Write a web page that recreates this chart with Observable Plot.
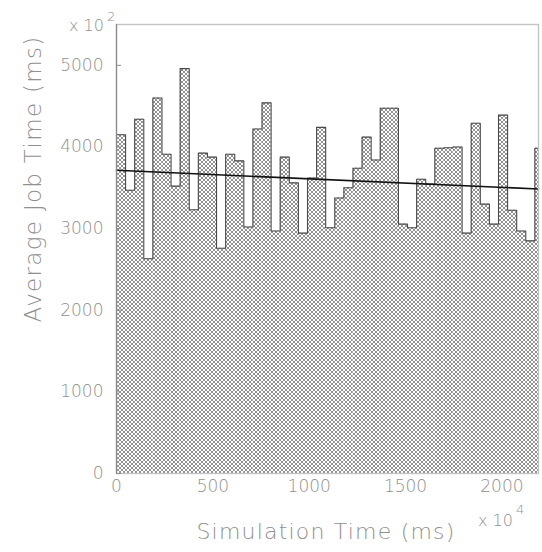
<!DOCTYPE html>
<html>
<head>
<meta charset="utf-8">
<script src="https://cdn.jsdelivr.net/npm/d3@7"></script>
<script src="https://cdn.jsdelivr.net/npm/@observablehq/plot@0.6"></script>
<style>
  html, body { margin: 0; padding: 0; background: #fff; }
  #chart { width: 542px; height: 552px; }
</style>
</head>
<body>
<div id="chart"></div>
<script>
// ---- data ----
const binWidth = 47.2;            // x units (×10^4 ms) per histogram bin
const avgJobTime = [
  4150, 3470, 4340, 2630, 4600, 3910, 3520, 4960, 3230, 3925,
  3875, 2760, 3910, 3830, 3020, 4220, 4540, 2970, 3875, 3560,
  2945, 3620, 4240, 3010, 3375, 3500, 3740, 4120, 3840, 4475,
  4475, 3055, 3010, 3605, 3545, 3985, 3990, 4000, 2945, 4290,
  3300, 3055, 4390, 3225, 2970, 2850, 3985
];
const fitX = [0, 2190];
const fitY = [3715, 3485];
const xTicks = [0, 500, 1000, 1500, 2000];
const yTicks = [0, 1000, 2000, 3000, 4000, 5000];
const xDomain = [0, 2190];
const yDomain = [0, 5500];
const xLabel = "Simulation Time (ms)";
const yLabel = "Average Job Time (ms)";
const yExponent = "2";
const xExponent = "4";

// ---- derived tables ----
const bins = avgJobTime.map((v, i) => ({x1: i * binWidth, x2: (i + 1) * binWidth, y: v}));
const outline = bins.map(b => ({x: b.x1, y: b.y}));
outline.push({x: bins[bins.length - 1].x2, y: bins[bins.length - 1].y});
const fit = fitX.map((x, i) => ({x, y: fitY[i]}));

const textColor = "#909090";
const font = "'DejaVu Sans', sans-serif";

const chart = Plot.plot({
  width: 542,
  height: 552,
  marginLeft: 116,
  marginRight: 4,
  marginTop: 24,
  marginBottom: 79,
  style: {fontFamily: font, background: "#fff"},
  x: {domain: xDomain},
  y: {domain: yDomain},
  marks: [
    Plot.rectY(bins, {x1: "x1", x2: "x2", y: "y", fill: "url(#xhatch)", clip: true}),
    Plot.line(outline, {x: "x", y: "y", curve: "step-after", stroke: "#4a4a4a", strokeWidth: 1.1, clip: true}),
    Plot.line(fit, {x: "x", y: "y", stroke: "#111", strokeWidth: 1.6}),
    Plot.frame({stroke: "#c4c4c4", strokeWidth: 1.4}),
    Plot.ruleX([xDomain[0]], {stroke: "#8a8a8a", strokeWidth: 1.2}),
    // inward tick marks
    Plot.axisY({ticks: yTicks, tickSize: 5, dx: 5, text: null, stroke: "#8a8a8a", label: null}),
    // tick labels
    Plot.axisY({ticks: yTicks, tickSize: 0, tickPadding: 13, tickFormat: d => String(d),
      fontSize: 17, fontWeight: 200, color: textColor, label: null}),
    Plot.axisX({ticks: xTicks, tickSize: 0, tickPadding: 6, tickFormat: d => String(d),
      fontSize: 17, fontWeight: 200, color: textColor, label: null})
  ]
});

// hatch pattern definition
const svg = d3.select(chart);
const defs = svg.insert("defs", ":first-child");
const pat = defs.append("pattern")
  .attr("id", "xhatch").attr("patternUnits", "userSpaceOnUse")
  .attr("width", 4).attr("height", 4);
pat.append("rect").attr("width", 4).attr("height", 4).attr("fill", "#ffffff");
pat.append("path").attr("d", "M0,0L4,4M4,0L0,4M-1,3L1,5M3,-1L5,1M3,5L5,3M-1,1L1,-1")
  .attr("stroke", "#858585").attr("stroke-width", 0.9);

// axis titles and exponent labels
svg.append("text")
  .attr("transform", "translate(41,179) rotate(-90)")
  .attr("text-anchor", "middle")
  .attr("font-family", font).attr("font-weight", 200)
  .attr("font-size", 23).attr("letter-spacing", 1.3).attr("fill", textColor)
  .text(yLabel);
svg.append("text")
  .attr("x", 326).attr("y", 539)
  .attr("text-anchor", "middle")
  .attr("font-family", font).attr("font-weight", 200)
  .attr("font-size", 22).attr("letter-spacing", 1.2).attr("fill", textColor)
  .text(xLabel);
const e2 = svg.append("text").attr("x", 69).attr("y", 31).attr("text-anchor", "start")
  .attr("font-family", font).attr("font-weight", 200).attr("font-size", 16).attr("fill", textColor);
e2.append("tspan").text("x 10");
e2.append("tspan").attr("dx", 3).attr("dy", -10).attr("font-size", 13).text(yExponent);
const e4 = svg.append("text").attr("x", 478).attr("y", 526).attr("text-anchor", "start")
  .attr("font-family", font).attr("font-weight", 200).attr("font-size", 16).attr("fill", textColor);
e4.append("tspan").text("x 10");
e4.append("tspan").attr("dx", 3).attr("dy", -12).attr("font-size", 13).text(xExponent);

document.getElementById("chart").appendChild(chart);
</script>
</body>
</html>
